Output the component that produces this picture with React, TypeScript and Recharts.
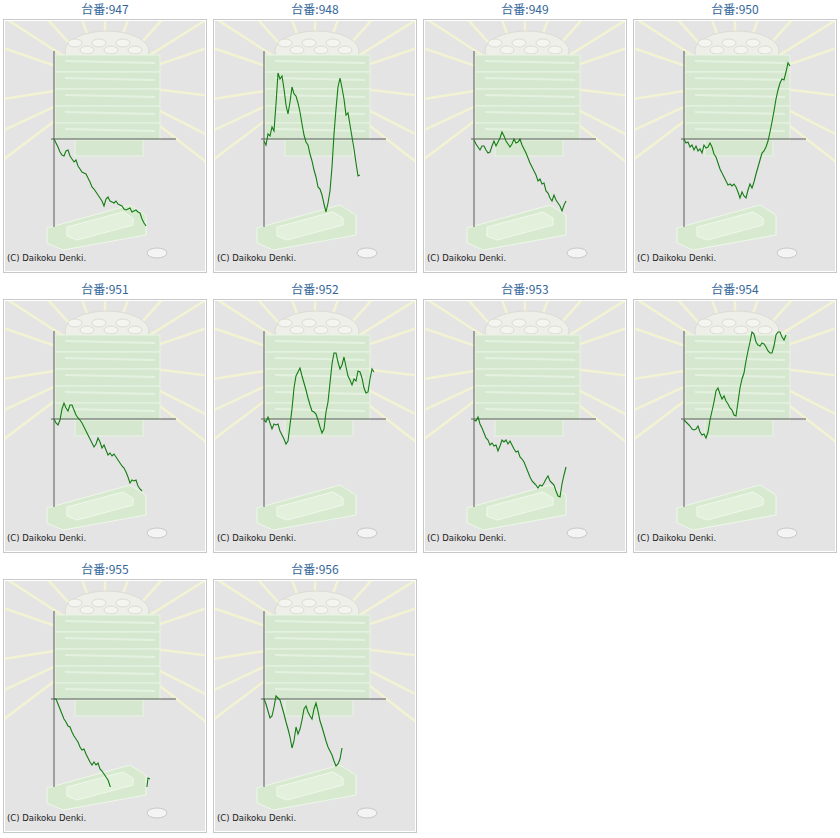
import { Line, LineChart, ReferenceLine, XAxis, YAxis } from "recharts";

// x step between samples, axis spans 0..122, y axis spans -88..88
const STEP = 2;

const M947 = [0, -4, -8, -13, -16, -17, -12, -11, -17, -20, -23, -21, -27, -30, -33, -34, -35, -39, -43, -48, -50, -53, -56, -59, -62, -67, -60, -58, -62, -63, -64, -62, -65, -66, -67, -70, -71, -70, -69, -73, -72, -71, -73, -74, -80, -84, -87];
const M948 = [-2, -6, 5, 3, 12, 8, 35, 66, 60, 63, 50, 34, 25, 37, 52, 45, 43, 36, 27, 15, 4, -3, -6, -15, -22, -31, -38, -48, -50, -56, -65, -73, -64, -52, -28, 5, 30, 52, 61, 51, 40, 24, 26, 14, 2, -10, -24, -37, -36];
const M949 = [-1, -5, -8, -11, -7, -7, -11, -14, -13, -7, -2, -7, -3, 1, 7, 3, -2, -5, -8, -5, 0, -4, -3, 0, -6, -10, -14, -19, -24, -28, -32, -36, -42, -40, -45, -44, -52, -54, -59, -62, -56, -61, -64, -67, -72, -66, -62];
const M950 = [0, -4, -3, -8, -6, -11, -7, -12, -10, -14, -6, -9, -8, -4, -8, -15, -18, -24, -30, -34, -38, -42, -46, -45, -47, -45, -48, -53, -59, -53, -57, -59, -51, -45, -49, -43, -35, -28, -21, -14, -12, -8, -2, 7, 17, 28, 40, 49, 56, 60, 59, 67, 76, 73];
const M951 = [0, -4, -6, -1, 10, 16, 11, 8, 14, 14, 9, 4, 1, -1, -4, -8, -12, -16, -20, -24, -28, -25, -19, -23, -29, -26, -31, -36, -34, -37, -35, -38, -41, -44, -47, -49, -53, -58, -64, -61, -62, -61, -67, -70, -72];
const M952 = [-1, -3, 2, -4, -10, -5, -6, -5, -12, -16, -20, -25, -22, -6, 10, 31, 43, 47, 51, 43, 36, 29, 21, 14, 8, 7, 5, -1, -8, -14, -10, 7, 17, 36, 55, 66, 66, 57, 50, 54, 62, 52, 43, 39, 34, 40, 38, 48, 47, 41, 31, 26, 27, 40, 50, 47];
const M953 = [-1, -2, 2, -5, -9, -14, -19, -21, -26, -24, -27, -26, -32, -27, -21, -23, -21, -25, -22, -26, -30, -33, -32, -38, -40, -43, -48, -53, -58, -62, -64, -66, -69, -66, -67, -64, -60, -57, -62, -64, -66, -72, -77, -78, -65, -56, -48];
const M954 = [-1, -3, -5, -7, -10, -11, -10, -7, -13, -16, -15, -19, -13, -1, 8, 17, 28, 31, 25, 20, 23, 18, 15, 11, 9, 4, 3, 17, 31, 40, 46, 58, 68, 77, 87, 85, 77, 74, 73, 76, 75, 72, 68, 66, 66, 73, 84, 87, 87, 82, 79, 84];
const M955 = [0, 0, -5, -10, -15, -20, -23, -27, -28, -33, -37, -40, -43, -48, -51, -50, -55, -59, -63, -66, -63, -66, -64, -70, -72, -75, -78, -81, -87, -92, -97, -100, -104, -108, -110, -112, -115, -113, -116, -118, -115, -112, -110, -106, -103, -97, -95, -79, -80];
const M956 = [0, -5, -12, -19, -17, -8, 3, 1, -1, -8, -15, -23, -30, -38, -49, -42, -28, -35, -30, -21, -10, -7, -13, -17, -20, -10, -4, -12, -22, -28, -35, -42, -48, -52, -56, -62, -67, -65, -60, -49];

const MACHINES = [
  { no: 947, values: M947 },
  { no: 948, values: M948 },
  { no: 949, values: M949 },
  { no: 950, values: M950 },
  { no: 951, values: M951 },
  { no: 952, values: M952 },
  { no: 953, values: M953 },
  { no: 954, values: M954 },
  { no: 955, values: M955 },
  { no: 956, values: M956 },
];

const RAY_ANGLES = [143, 155, 171, 199, 213, 228, 250, 270, 290, 312, 328, 341, 7, 27, 38];

function Backdrop() {
  const cx = 100;
  const cy = 62;
  return (
    <svg width={200} height={250} style={{ position: "absolute", left: 0, top: 0 }}>
      <rect x={0} y={0} width={200} height={250} fill="#e4e4e4" />
      {RAY_ANGLES.map((a) => {
        const r = (a * Math.PI) / 180;
        return (
          <line
            key={a}
            x1={cx + Math.cos(r) * 45}
            y1={cy + Math.sin(r) * 45}
            x2={cx + Math.cos(r) * 160}
            y2={cy + Math.sin(r) * 160}
            stroke="#f3f3d4"
            strokeWidth={2.5}
          />
        );
      })}
      {/* coin pile */}
      <ellipse cx={102} cy={30} rx={42} ry={20} fill="#efefea" stroke="#dcdcd4" />
      {[70, 82, 94, 106, 118, 130].map((x, i) => (
        <ellipse key={x} cx={x} cy={22 + (i % 2) * 7} rx={7} ry={4} fill="#f4f4f0" stroke="#dcdcd4" />
      ))}
      {/* stacked trays */}
      {[0, 1, 2, 3, 4].map((i) => (
        <g key={i}>
          <rect x={50} y={34 + i * 17} width={105} height={17} fill="#d5e8cf" stroke="#e8f3e4" />
          <line x1={60} y1={40 + i * 17} x2={150} y2={42 + i * 17} stroke="#e5f1e0" strokeWidth={2} />
        </g>
      ))}
      <rect x={70} y={119} width={68} height={16} fill="#d5e8cf" stroke="#e8f3e4" />
      {/* bottom tray */}
      <polygon points="42,207 125,184 141,194 141,214 58,229 42,222" fill="#d7eacf" stroke="#eef7ea" />
      <polygon points="62,206 118,191 128,197 128,204 72,219 62,215" fill="#e2f0dc" stroke="#f0f8ec" />
      {/* single coin */}
      <ellipse cx={152} cy={232} rx={10} ry={5} fill="#f4f4f4" stroke="#c8c8c8" />
      <text x={2} y={240} fontSize={8.5} fontFamily="DejaVu Sans, Verdana, sans-serif" fill="#1a1a1a">
        (C) Daikoku Denki.
      </text>
    </svg>
  );
}

function Panel({ no, values, col, row }: { no: number; values: number[]; col: number; row: number }) {
  const data = values.map((v, i) => ({ x: i * STEP, y: v }));
  const left = 3 + col * 210;
  const top = row * 280;
  return (
    <div style={{ position: "absolute", left, top, width: 204, height: 274 }}>
      <div
        style={{
          height: 17,
          lineHeight: "17px",
          textAlign: "center",
          fontSize: 12,
          color: "#336699",
          fontFamily: "'Noto Sans CJK JP', 'Noto Sans', sans-serif",
        }}
      >
        台番:{no}
      </div>
      <div
        style={{
          position: "absolute",
          top: 19,
          left: 0,
          width: 202,
          height: 252,
          border: "1px solid #c8c8c8",
          background: "#fff",
        }}
      >
        <div style={{ position: "absolute", left: 1, top: 1, width: 200, height: 250, overflow: "hidden" }}>
          <Backdrop />
          <div style={{ position: "absolute", left: 0, top: 0 }}>
            <LineChart width={200} height={250} data={data} margin={{ top: 30, right: 29, bottom: 44, left: 46 }}>
              <XAxis type="number" dataKey="x" domain={[-3, 122]} hide allowDataOverflow />
              <YAxis type="number" domain={[-88, 88]} hide allowDataOverflow />
              <ReferenceLine x={0} stroke="#5a5a5a" strokeWidth={1} />
              <ReferenceLine y={0} stroke="#5a5a5a" strokeWidth={1} />
              <Line
                type="linear"
                dataKey="y"
                stroke="#137d13"
                strokeWidth={1.1}
                dot={false}
                isAnimationActive={false}
              />
            </LineChart>
          </div>
        </div>
      </div>
    </div>
  );
}

export default function App() {
  return (
    <div style={{ position: "absolute", left: 0, top: 0, width: 840, height: 838, background: "#fff" }}>
      {MACHINES.map((m, i) => (
        <Panel key={m.no} no={m.no} values={m.values} col={i % 4} row={Math.floor(i / 4)} />
      ))}
    </div>
  );
}
